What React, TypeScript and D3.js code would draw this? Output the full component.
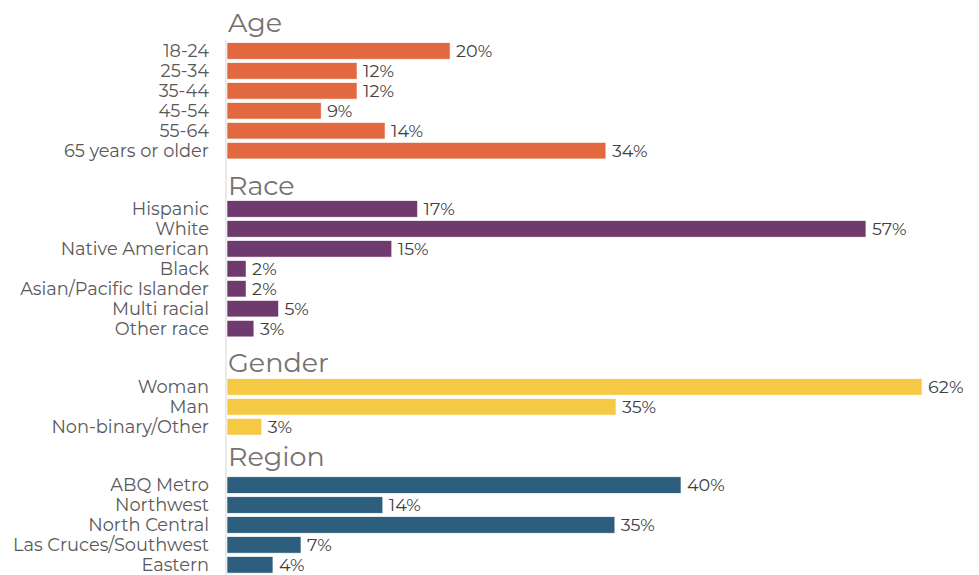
import React from "react";
import * as d3 from "d3";

const groups = ["Age", "Race", "Gender", "Region"];
const groupColors = ["#E2693F", "#6F3A6E", "#F6C944", "#2E5E7E"];

const ageCategories = ["18-24", "25-34", "35-44", "45-54", "55-64", "65 years or older"];
const ageValues = [19.9, 11.6, 11.6, 8.4, 14.1, 33.8];
const ageLabels = ["20%", "12%", "12%", "9%", "14%", "34%"];

const raceCategories = ["Hispanic", "White", "Native American", "Black", "Asian/Pacific Islander", "Multi racial", "Other race"];
const raceValues = [17.0, 57.0, 14.7, 1.7, 1.7, 4.6, 2.4];
const raceLabels = ["17%", "57%", "15%", "2%", "2%", "5%", "3%"];

const genderCategories = ["Woman", "Man", "Non-binary/Other"];
const genderValues = [62.0, 34.7, 3.1];
const genderLabels = ["62%", "35%", "3%"];

const regionCategories = ["ABQ Metro", "Northwest", "North Central", "Las Cruces/Southwest", "Eastern"];
const regionValues = [40.5, 13.9, 34.6, 6.6, 4.1];
const regionLabels = ["40%", "14%", "35%", "7%", "4%"];

const groupData = [
  { cats: ageCategories, vals: ageValues, labels: ageLabels },
  { cats: raceCategories, vals: raceValues, labels: raceLabels },
  { cats: genderCategories, vals: genderValues, labels: genderLabels },
  { cats: regionCategories, vals: regionValues, labels: regionLabels },
];

const W = 979;
const H = 575;
const FONT = "Montserrat, 'DejaVu Sans', sans-serif";
const headerOffsets = [11, 5.7, 6.6, 11];

export default function App() {
  const x = d3.scaleLinear().domain([0, 62]).range([227, 922]);
  const pitch = 19.95;
  const headerGap = 38.3;
  const top = 42.7;
  const barH = 16.5;

  const rows: any[] = [];
  const headers: any[] = [];
  let idx = 0;
  groupData.forEach((g, gi) => {
    const firstY = top + idx * pitch + gi * headerGap;
    headers.push({ name: groups[gi], y: firstY - headerOffsets[gi] });
    g.cats.forEach((c, i) => {
      rows.push({
        cat: c,
        val: g.vals[i],
        label: g.labels[i],
        color: groupColors[gi],
        y: top + idx * pitch + gi * headerGap,
      });
      idx++;
    });
  });

  return (
    <svg width={W} height={H} style={{ position: "absolute", left: 0, top: 0 }} fontFamily={FONT}>
      <rect width={W} height={H} fill="#fff" />
      <line x1={226} x2={226} y1={40} y2={H} stroke="#E3E3E3" strokeWidth={1.5} />
      {headers.map((h) => (
        <text key={h.name} x={228} y={h.y} fontSize={27} fill="#767171">
          {h.name}
        </text>
      ))}
      {rows.map((r) => (
        <g key={r.cat}>
          <rect
            x={x(0)}
            y={r.y}
            width={x(r.val) - x(0)}
            height={barH}
            fill={r.color}
            stroke="#fff"
            strokeWidth={0.6}
          />
          <text
            x={209}
            y={r.y + barH / 2}
            dy="0.35em"
            textAnchor="end"
            fontSize={17.8}
            fill="#595959"
          >
            {r.cat}
          </text>
          <text
            x={x(r.val) + 6}
            y={r.y + barH / 2}
            dy="0.35em"
            fontSize={17.6}
            fill="#404040"
          >
            {r.label}
          </text>
        </g>
      ))}
    </svg>
  );
}
